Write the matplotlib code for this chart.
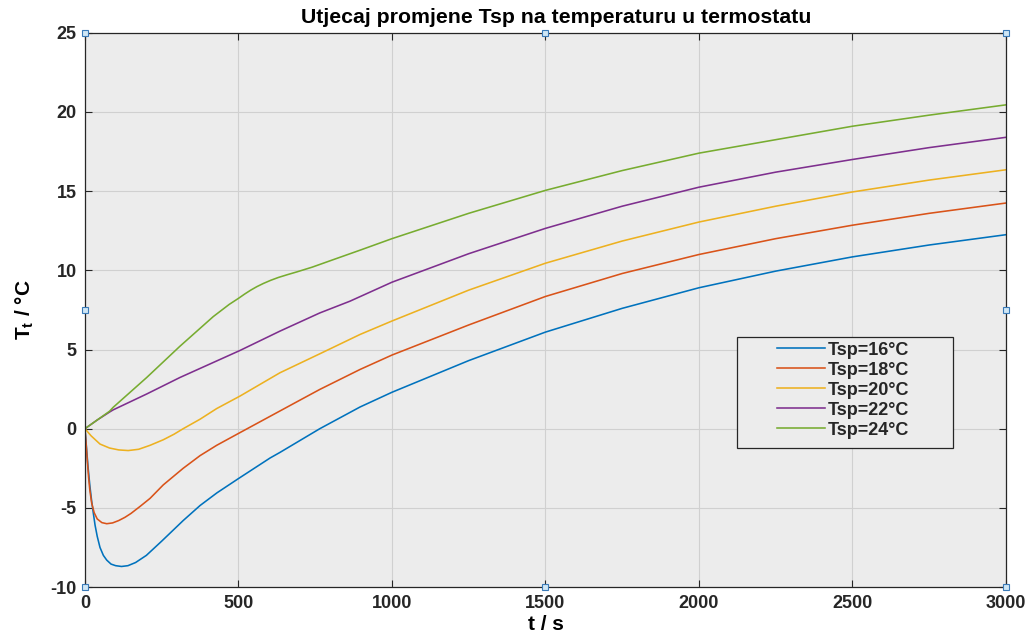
import numpy as np
import matplotlib
matplotlib.use('Agg')
import matplotlib.pyplot as plt
from matplotlib.patches import Rectangle

plt.rcParams['font.family'] = ['Liberation Sans', 'DejaVu Sans']
plt.rcParams['mathtext.fontset'] = 'custom'
plt.rcParams['mathtext.rm'] = 'Liberation Sans'
plt.rcParams['mathtext.bf'] = 'Liberation Sans:bold'
plt.rcParams['axes.unicode_minus'] = False

# Tsp = 16 C
t_16 = [0, 5, 10, 16, 22, 27, 33, 40, 49, 60, 71, 85, 100, 119, 140, 165, 200, 250,
        320, 375, 430, 500, 603, 635, 765, 896, 1000, 1250, 1500, 1750, 2000, 2250,
        2500, 2750, 3000]
T_16 = [0, -1.2, -2.4, -3.6, -4.6, -5.3, -6.1, -6.8, -7.5, -8.0, -8.3, -8.55, -8.65,
        -8.7, -8.65, -8.45, -8.0, -7.1, -5.8, -4.85, -4.05, -3.15, -1.85, -1.5, 0.0,
        1.37, 2.3, 4.3, 6.1, 7.6, 8.9, 9.95, 10.85, 11.6, 12.25]

# Tsp = 18 C
t_18 = [0, 4, 8, 12, 16, 22, 30, 40, 55, 71, 90, 110, 130, 150, 180, 212, 255, 320,
        375, 429, 500, 600, 700, 765, 896, 1000, 1250, 1500, 1750, 2000, 2250, 2500,
        2750, 3000]
T_18 = [0, -1.0, -2.1, -3.1, -3.9, -4.7, -5.3, -5.7, -5.93, -6.0, -5.95, -5.8, -5.6,
        -5.35, -4.9, -4.4, -3.55, -2.5, -1.7, -1.05, -0.3, 0.75, 1.8, 2.48, 3.74,
        4.65, 6.55, 8.35, 9.8, 11.0, 12.0, 12.85, 13.6, 14.25]

# Tsp = 20 C
t_20 = [0, 20, 49, 80, 110, 141, 175, 212, 255, 290, 320, 375, 429, 505, 635, 765,
        896, 1000, 1250, 1500, 1750, 2000, 2250, 2500, 2750, 3000]
T_20 = [0, -0.45, -0.97, -1.22, -1.34, -1.38, -1.3, -1.05, -0.7, -0.35, 0.0, 0.6,
        1.27, 2.06, 3.53, 4.73, 5.95, 6.8, 8.75, 10.45, 11.85, 13.05, 14.05, 14.95,
        15.7, 16.35]

# Tsp = 22 C
t_22 = [0, 40, 80, 92, 201, 309, 505, 635, 765, 863, 1000, 1250, 1500, 1750, 2000,
        2250, 2500, 2750, 3000]
T_22 = [0, 0.55, 1.05, 1.19, 2.19, 3.23, 4.94, 6.16, 7.31, 8.05, 9.25, 11.05, 12.65,
        14.05, 15.25, 16.2, 17.0, 17.75, 18.4]

# Tsp = 24 C
t_24 = [0, 40, 80, 92, 201, 309, 418, 470, 500, 520, 540, 560, 581, 605, 630, 660,
        690, 740, 798, 900, 1000, 1250, 1500, 1750, 2000, 2250, 2500, 2750, 3000]
T_24 = [0, 0.55, 1.1, 1.35, 3.23, 5.2, 7.08, 7.85, 8.23, 8.5, 8.75, 8.97, 9.17, 9.37,
        9.55, 9.73, 9.9, 10.2, 10.6, 11.3, 12.0, 13.6, 15.05, 16.3, 17.4, 18.25, 19.1,
        19.8, 20.45]

labels = ['Tsp=16°C', 'Tsp=18°C', 'Tsp=20°C', 'Tsp=22°C', 'Tsp=24°C']
colors = ['#0072BD', '#D95319', '#EDB120', '#7E2F8E', '#77AC30']
series = [(t_16, T_16), (t_18, T_18), (t_20, T_20), (t_22, T_22), (t_24, T_24)]

fig = plt.figure(figsize=(10.36, 6.43), dpi=100)
ax = fig.add_axes([0.082, 0.087, 0.889, 0.862])
ax.set_facecolor('#ececec')

for (t, T), lab, c in zip(series, labels, colors):
    ax.plot(t, T, color=c, linewidth=1.15, label=lab)

ax.set_xlim(0, 3000)
ax.set_ylim(-10, 25)
ax.set_xticks(np.arange(0, 3001, 500))
ax.set_yticks(np.arange(-10, 26, 5))
ax.grid(True, color='#d0d0d0', linewidth=0.8)
ax.set_axisbelow(True)
ax.tick_params(direction='in', top=True, right=True, length=5, width=0.8,
               color='#262626', labelsize=13, labelcolor='#262626')
ax.tick_params(axis='x', pad=6)
ax.tick_params(axis='y', pad=6)
for lbl in ax.get_xticklabels() + ax.get_yticklabels():
    lbl.set_fontweight('bold')
for s in ax.spines.values():
    s.set_color('#262626')
    s.set_linewidth(0.9)

ax.set_title('Utjecaj promjene Tsp na temperaturu u termostatu', fontsize=15.3,
             fontweight='bold', pad=7, x=0.512)
ax.set_xlabel('t / s', fontsize=15, fontweight='bold', labelpad=2)
ax.set_ylabel(r'$\mathbf{T_t}$ / °C', fontsize=15, fontweight='bold', labelpad=10)

# legend frame drawn separately (MATLAB style wide box)
ax.add_patch(Rectangle((0.708, 0.251), 0.234, 0.200, transform=ax.transAxes,
                       facecolor='#ececec', edgecolor='#262626', linewidth=0.9,
                       zorder=4))
leg = ax.legend(loc='upper left', bbox_to_anchor=(0.751, 0.443), frameon=False,
                borderpad=0, borderaxespad=0, handlelength=2.7, handletextpad=0.15,
                labelspacing=0.17, prop={'weight': 'bold', 'size': 13})
leg.set_zorder(5)
for txt in leg.get_texts():
    txt.set_color('#262626')

# selection handles around the axes
hx = [0, 0.5, 1, 0, 1, 0, 0.5, 1]
hy = [1, 1, 1, 0.5, 0.5, 0, 0, 0]
ax.plot(hx, hy, 's', transform=ax.transAxes, clip_on=False, markersize=5,
        markerfacecolor='#cfe6f5', markeredgecolor='#3a7ab8', markeredgewidth=0.8,
        linestyle='none', zorder=6)

fig.savefig('out.png', dpi=100)
